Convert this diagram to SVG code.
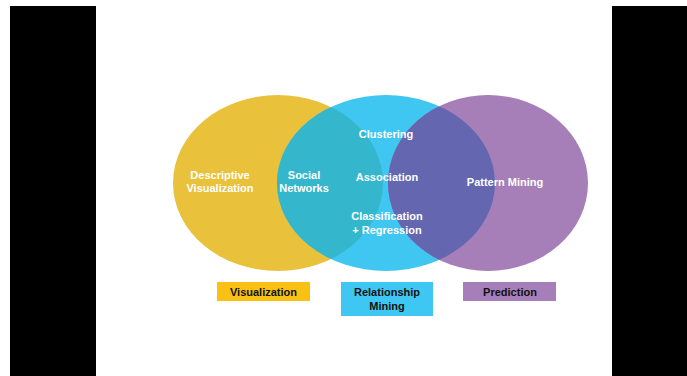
<svg xmlns="http://www.w3.org/2000/svg" width="687" height="376" viewBox="0 0 687 376">
<style>
.t{font-family:"Liberation Sans",Arial,sans-serif;font-weight:bold;font-size:11px;text-anchor:middle}
.w{fill:#ffffff}
.k{fill:#111111}
</style>
<defs>
<clipPath id="cBlue"><ellipse cx="386" cy="183" rx="109" ry="88"/></clipPath>
</defs>
<rect x="0" y="0" width="687" height="376" fill="#ffffff"/>
<rect x="10" y="6" width="86" height="370" fill="#000000"/>
<rect x="612" y="6" width="75" height="370" fill="#000000"/>
<g id="circles">
<g id="visualization-circle">
<ellipse cx="278" cy="183" rx="105" ry="88" fill="#E9C13B"/>
</g>
<g id="relationship-circle">
<ellipse cx="386" cy="183" rx="109" ry="88" fill="#3FC7F1"/>
<ellipse cx="278" cy="183" rx="105" ry="88" fill="#34B6CD" clip-path="url(#cBlue)"/>
</g>
<g id="prediction-circle">
<ellipse cx="488" cy="183" rx="100" ry="88" fill="#A77FB8"/>
<ellipse cx="488" cy="183" rx="100" ry="88" fill="#6467B0" clip-path="url(#cBlue)"/>
</g>
</g>
<g id="circle-texts">
<text class="t w" x="220" y="179">Descriptive</text>
<text class="t w" x="220" y="192">Visualization</text>
<text class="t w" x="304" y="179">Social</text>
<text class="t w" x="304" y="192">Networks</text>
<text class="t w" x="386" y="138">Clustering</text>
<text class="t w" x="387" y="181">Association</text>
<text class="t w" x="387" y="220">Classification</text>
<text class="t w" x="387" y="234">+ Regression</text>
<text class="t w" x="505" y="186">Pattern Mining</text>
</g>
<g id="label-visualization">
<rect x="217" y="282" width="93" height="19" fill="#F9C113"/>
<text class="t k" x="263.5" y="296">Visualization</text>
</g>
<g id="label-relationship">
<rect x="341" y="282" width="92" height="34" fill="#3FC7F4"/>
<text class="t k" x="387" y="296">Relationship</text>
<text class="t k" x="387" y="310">Mining</text>
</g>
<g id="label-prediction">
<rect x="463" y="282" width="93" height="19" fill="#A67EB9"/>
<text class="t k" x="510" y="296">Prediction</text>
</g>
<g id="connectors"></g>
</svg>
